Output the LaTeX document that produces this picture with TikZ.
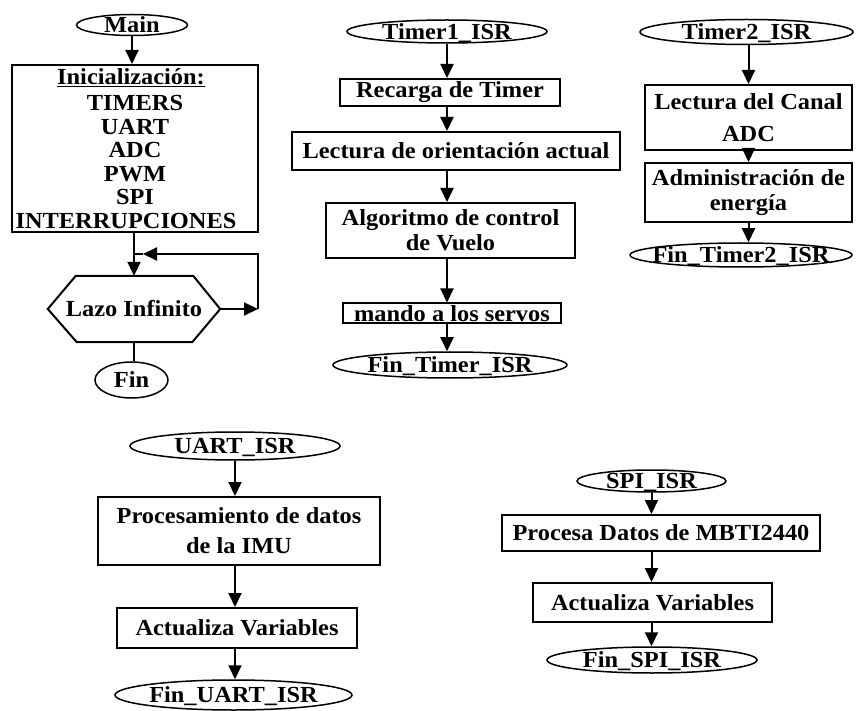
\documentclass[tikz,border=0pt]{standalone}
\usepackage{fontspec}
\setmainfont{Liberation Serif}[FakeStretch=1.06]
\usetikzlibrary{arrows.meta,shapes.geometric}
\newcommand{\ctxt}[1]{\raisebox{-0.34em}[0pt][0pt]{\makebox[0pt]{#1}}}
\begin{document}
\begin{tikzpicture}[x=1pt,y=-1pt,
  every node/.style={font=\fontsize{23}{25}\selectfont\bfseries},
  term/.style={ellipse,draw,line width=1.5pt,inner sep=0pt},
  proc/.style={rectangle,draw,line width=2pt,inner sep=0pt,align=center},
  arr/.style={line width=2pt,-{Triangle[length=14pt,width=13pt]}},
  ln/.style={line width=2pt}]
\path[use as bounding box,fill=white] (0,0) rectangle (857,711);

% ---- Main ----
\node[term,minimum width=111pt,minimum height=21pt] (main) at (132,25) {\ctxt{Main}};
\node[proc,minimum width=246pt,minimum height=167pt,font=\fontsize{23}{23.5}\selectfont\bfseries] (init) at (135,148.5)
  {\underline{Inicialización:}\hspace*{8pt}\\[3pt]TIMERS\hspace*{14pt}\\UART\hspace*{22pt}\\ADC\hspace*{28pt}\\PWM\hspace*{28pt}\\SPI\hspace*{42pt}\\INTERRUPCIONES\hspace*{18pt}};
\node[inner sep=0pt,minimum width=172pt,minimum height=66pt] (hex) at (134,309) {Lazo Infinito};
\draw[ln] (hex.west) -- ([xshift=28pt]hex.north west) -- ([xshift=-27pt]hex.north east) -- (hex.east)
  -- ([xshift=-28pt]hex.south east) -- ([xshift=29pt]hex.south west) -- cycle;
\node[term,minimum width=73pt,minimum height=36pt] (fin) at (131.5,380) {\ctxt{Fin}};
\coordinate (loopR) at (258,309);
\coordinate (loopL) at (143,254);
\coordinate (junc) at (134,254);
\draw[arr] (main.south) -- (main.south |- init.north);
\draw[arr] (hex.north |- init.south) -- (hex.north);
\draw[arr] (hex.east) -- (loopR);
\draw[arr] (loopR) |- (loopL);
\draw[ln] (loopL) -- (junc);
\draw[ln] (hex.south) -- (hex.south |- fin.north);

% ---- Timer1 ----
\node[term,minimum width=200pt,minimum height=23pt] (t1) at (447,31.5) {\ctxt{Timer1\_ISR}};
\node[proc,minimum width=220pt,minimum height=27pt] (rec) at (450,92.5) {Recarga de Timer};
\node[proc,minimum width=328pt,minimum height=38pt] (lec) at (456,151) {Lectura de orientación actual};
\node[proc,minimum width=249pt,minimum height=55pt,font=\fontsize{23}{25}\selectfont\bfseries] (alg) at (450.5,230.5) {Algoritmo de control\\de Vuelo};
\node[proc,minimum width=218pt,minimum height=20pt] (man) at (452,313.5) {mando a los servos};
\node[term,minimum width=234pt,minimum height=26pt] (ft1) at (450,365) {\ctxt{Fin\_Timer\_ISR}};
\draw[arr] (t1.south) -- (t1.south |- rec.north);
\draw[arr] (t1.south |- rec.south) -- (t1.south |- lec.north);
\draw[arr] (t1.south |- lec.south) -- (t1.south |- alg.north);
\draw[arr] (t1.south |- alg.south) -- (t1.south |- man.north);
\draw[arr] (t1.south |- man.south) -- (t1.south |- ft1.north);

% ---- Timer2 ----
\node[term,minimum width=213pt,minimum height=25pt] (t2) at (746.5,32) {\ctxt{Timer2\_ISR}};
\node[proc,minimum width=207pt,minimum height=65pt,font=\fontsize{23}{32}\selectfont\bfseries] (can) at (748.5,117.5) {Lectura del Canal\\ADC};
\node[proc,minimum width=207pt,minimum height=59pt,font=\fontsize{23}{25}\selectfont\bfseries] (adm) at (748.5,192.5) {Administración de\\energía};
\node[term,minimum width=222pt,minimum height=24pt] (ft2) at (741,255) {\ctxt{Fin\_Timer2\_ISR}};
\draw[arr] (can.north |- t2.south) -- (can.north);
\draw[arr] (can.south) -- (adm.north);
\draw[arr] (adm.south) -- (adm.south |- ft2.north);

% ---- UART ----
\node[term,minimum width=210pt,minimum height=28pt] (uart) at (235,446) {\ctxt{UART\_ISR}};
\node[proc,minimum width=282pt,minimum height=68pt,font=\fontsize{23}{30}\selectfont\bfseries] (pro) at (239,531) {Procesamiento de datos\\de la IMU};
\node[proc,minimum width=240pt,minimum height=40pt] (act1) at (237,628) {Actualiza Variables};
\node[term,minimum width=237pt,minimum height=30pt] (fu) at (233.5,695) {\ctxt{Fin\_UART\_ISR}};
\draw[arr] (uart.south) -- (uart.south |- pro.north);
\draw[arr] (uart.south |- pro.south) -- (uart.south |- act1.north);
\draw[arr] (uart.south |- act1.south) -- (uart.south |- fu.north);

% ---- SPI ----
\node[term,minimum width=149pt,minimum height=22pt] (spi) at (651.5,481) {\ctxt{SPI\_ISR}};
\node[proc,minimum width=318pt,minimum height=36pt] (pds) at (661,533) {Procesa Datos de MBTI2440};
\node[proc,minimum width=239pt,minimum height=39pt] (act2) at (652.5,602.5) {Actualiza Variables};
\node[term,minimum width=210pt,minimum height=26pt] (fs) at (652,660) {\ctxt{Fin\_SPI\_ISR}};
\draw[arr] (spi.south) -- (spi.south |- pds.north);
\draw[arr] (spi.south |- pds.south) -- (spi.south |- act2.north);
\draw[arr] (spi.south |- act2.south) -- (spi.south |- fs.north);
\end{tikzpicture}
\end{document}
